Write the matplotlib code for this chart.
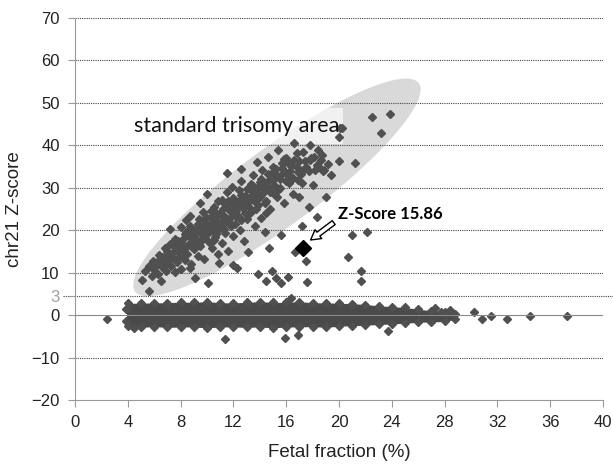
import matplotlib
matplotlib.use("Agg")
import matplotlib.pyplot as plt
from matplotlib.patches import Ellipse, Rectangle
from matplotlib.transforms import Affine2D

# trisomy 21 cases (fetal fraction %, chr21 z-score)
tri_x = [5.1, 5.6, 5.3, 5.6, 5.8, 5.9, 6.0,
         6.2, 6.3, 6.4, 6.5, 6.6, 6.7, 6.8, 6.9, 7.0,
         7.1, 7.2, 7.3, 7.4, 7.5, 7.6, 7.7, 7.8, 7.9, 8.0, 7.6, 7.2,
         8.1, 8.2, 8.3, 8.4, 8.5, 8.6, 8.7, 8.8, 8.9, 9.0, 8.4, 8.7, 8.0, 8.7,
         9.1, 9.1, 9.2, 9.3, 9.4, 9.5, 9.6, 9.7, 9.8, 9.9, 10.0, 9.5,
         10.1, 10.0, 10.2, 10.3, 10.4, 10.5, 10.6, 10.7, 10.8, 10.9, 11.0, 10.5, 10.8,
         11.1, 11.1, 11.2, 11.3, 11.4, 11.5, 11.6, 11.7, 11.8, 11.9, 12.0, 11.5,
         12.0, 12.3, 12.1, 12.2, 12.4, 12.5, 12.6, 12.7, 12.8, 12.9, 13.0, 12.6,
         13.1, 13.2, 13.3, 13.4, 13.5, 13.6, 13.7, 13.8, 13.9, 13.9, 14.0,
         14.1, 14.2, 14.3, 14.5, 14.5, 14.6, 14.7, 14.7, 14.8, 14.9, 15.0, 14.4,
         15.2, 15.1, 15.3, 15.4, 15.5, 15.6, 15.6, 15.7, 15.8, 15.9, 15.9, 16.0,
         16.1, 16.0, 16.2, 16.4, 16.4, 16.5, 16.7, 16.8, 16.9, 17.0, 16.6,
         17.2, 17.3, 17.5, 17.6, 17.7, 17.5, 17.8, 17.9, 17.3, 17.2, 17.0, 17.8,
         18.3, 18.4, 18.3, 18.6, 18.8, 19.0, 19.2, 18.2, 18.9, 19.4, 18.0,
         20.0, 20.2, 20.0, 21.2, 21.0, 22.1, 20.7, 21.7, 21.7, 22.5, 23.9, 23.2, 20.1,
         6.6, 6.9, 7.0, 7.3, 7.4, 7.7, 7.9, 8.0, 8.2, 8.3, 8.5, 8.6, 8.8, 8.9, 9.0,
         9.2, 9.3, 9.4, 9.6, 9.7, 9.8, 9.9, 10.1, 10.2, 10.3, 10.4, 10.6, 10.7, 10.9,
         11.0, 11.2, 11.3, 11.4, 11.6, 11.7, 11.9, 12.0, 12.1, 12.3, 12.4, 12.6, 12.7,
         12.9, 13.0, 13.2, 13.3, 13.5, 13.6, 13.8, 14.0, 14.1, 14.3, 14.4, 14.6, 14.8,
         15.0, 15.2, 15.4, 15.6, 15.8, 16.0, 16.3, 16.6, 16.9,
         6.1, 6.4, 6.8, 7.1, 7.5, 7.8, 8.1, 8.4, 8.6, 8.9, 9.1, 9.4, 9.6, 9.9, 10.0,
         10.3, 10.5, 10.6, 10.9, 11.1, 11.3, 11.5, 11.8, 11.9, 12.2, 12.4, 12.6, 12.8,
         13.0, 13.1, 13.3, 13.5, 13.7, 13.9, 14.2, 14.4, 14.5, 14.7, 14.9, 15.1, 15.3,
         15.5, 15.7, 16.1, 16.2, 16.5, 16.8, 17.1, 17.4, 17.7, 18.1, 18.5, 18.7]
tri_y = [8.3, 5.7, 10.5, 11.5, 9.2, 12.8, 10.6,
         12.5, 9.8, 14.1, 8.0, 11.3, 13.0, 15.9, 10.4, 12.2,
         14.4, 16.8, 11.6, 13.5, 15.2, 18.0, 12.4, 14.8, 16.5, 10.8, 10.2, 20.3,
         15.5, 17.9, 13.0, 19.6, 14.3, 16.7, 21.0, 12.1, 18.4, 15.6, 22.3, 11.0, 20.8, 23.3,
         8.7, 17.3, 20.2, 14.0, 22.6, 16.4, 19.0, 24.3, 13.2, 21.4, 17.8, 26.5,
         7.6, 28.5, 19.8, 23.1, 15.9, 25.4, 18.3, 21.9, 14.4, 12.2, 24.0, 20.6, 27.0,
         17.0, 27.1, 22.5, 26.3, 19.4, 28.9, 15.2, 24.8, 21.1, 30.2, 18.6, 33.5,
         11.8, 11.1, 26.0, 23.4, 29.5, 20.0, 31.6, 25.2, 17.4, 28.1, 22.7, 34.5,
         14.9, 27.0, 30.8, 24.5, 33.1, 20.9, 28.8, 36.0, 9.6, 25.9, 31.4,
         22.8, 34.2, 29.4, 8.1, 27.0, 37.2, 15.8, 31.9, 25.1, 10.3, 35.0, 19.5,
         8.7, 28.6, 32.7, 38.9, 30.0, 18.9, 7.6, 35.8, 26.4, 33.6, 36.1, 33.4,
         8.9, 37.0, 31.2, 4.0, 35.2, 28.5, 14.9, 38.3, 33.8, 36.4, 40.6,
         21.0, 38.5, 12.7, 7.8, 25.5, 35.0, 40.0, 37.0, 34.2, 31.1, 27.8, 36.5,
         23.1, 38.9, 35.4, 36.5, 34.0, 27.8, 35.6, 34.2, 34.2, 33.0, 30.6,
         42.0, 44.0, 36.3, 35.8, 18.9, 19.6, 13.7, 10.4, 8.0, 46.7, 47.4, 43.0, 44.1,
         13.8, 12.9, 15.0, 14.0, 17.2, 15.9, 13.7, 17.0, 15.0, 19.0, 16.2, 18.6, 20.2, 16.0, 19.3,
         18.0, 21.5, 16.9, 20.5, 18.2, 22.5, 19.5, 21.0, 17.0, 24.5, 20.0, 22.8, 19.0, 23.9,
         21.0, 25.0, 20.4, 23.2, 26.8, 22.0, 24.6, 27.5, 21.4, 25.8, 23.0, 28.4, 26.5,
         24.0, 29.7, 25.5, 28.0, 30.5, 26.8, 29.6, 27.9, 32.0, 30.5, 26.5, 33.2, 29.0,
         31.8, 34.4, 29.4, 33.0, 36.8, 31.5, 34.0, 36.6, 31.8,
         11.8, 12.0, 13.9, 13.2, 16.4, 17.4, 14.2, 16.0, 20.0, 17.0, 19.8, 19.6, 17.6, 23.0, 19.0,
         21.8, 17.6, 24.2, 20.4, 23.6, 21.8, 25.6, 23.0, 26.6, 24.6, 27.0, 22.4, 26.0,
         27.6, 23.5, 29.4, 27.2, 25.0, 30.2, 28.6, 31.2, 24.0, 29.8, 33.4, 30.6, 27.8,
         32.0, 34.6, 33.0, 35.8, 32.4, 35.0, 33.2, 36.4, 34.0, 37.2, 34.8, 37.8]

# scattered normal cases outside the dense band
out_x = [2.4, 4.5, 11.4, 15.9, 16.9, 23.7, 27.3, 28.4, 27.7, 30.2, 30.8, 31.5, 32.7, 34.5, 37.3]
out_y = [-0.9, -3.1, -5.7, -5.4, -4.7, -3.8, 1.7, 1.2, 0.8, 0.8, -0.9, -0.3, -0.9, -0.2, -0.2]

# outline of the dense band of normal cases
band_x = [3.9, 4.0, 5, 6, 7, 8, 9, 10, 11, 12, 13, 14, 15, 16, 17, 18, 19, 20,
          21, 22, 23, 24, 25, 26, 27, 28, 28.8]
band_top = [1.5, 2.8, 2.8, 2.9, 2.9, 3.1, 3.0, 3.2, 2.9, 2.9, 3.0, 3.2, 3.0, 3.0, 3.2, 2.9, 2.9, 2.8,
            2.7, 2.5, 2.2, 2.0, 1.8, 1.4, 1.0, 0.8, 0.2]
band_bot = [-1.5, -2.6, -2.9, -2.7, -2.9, -2.8, -2.8, -3.0, -2.8, -2.8, -2.9, -2.8, -3.0, -2.8, -2.8, -2.7,
            -2.9, -2.6, -2.5, -2.4, -2.2, -2.1, -1.9, -1.7, -1.6, -1.5, -1.0]

case_x, case_y = 17.3, 15.86

# the "3" cut-off line sits a little above 3 on the drawn scale
cut_pos, cut_label = 4.5, '3'
ytick_pos = [-20, -10, 0, cut_pos, 10, 20, 30, 40, 50, 60, 70]
ytick_lab = ['\u221220', '\u221210', '0', cut_label, '10', '20', '30', '40', '50', '60', '70']
xticks = list(range(0, 41, 4))

plt.rcParams['font.family'] = ['Liberation Sans', 'DejaVu Sans']
fig = plt.figure(figsize=(6.13, 4.71), dpi=100)
ax = fig.add_axes([75 / 613, 1 - 400 / 471, 528 / 613, 382 / 471])
ax.set_xlim(0, 40)
ax.set_ylim(-20, 70)

# pixels per data unit, used to draw the ellipse undistorted
sx = 528 / 40
sy = 382 / 90
ell = Ellipse((15.3 * sx, 30.1 * sy), width=352, height=78, angle=36.3,
              transform=Affine2D().scale(1 / sx, 1 / sy) + ax.transData,
              facecolor='#d9d9d9', edgecolor='none', zorder=1)
ax.add_patch(ell)

for v in [-10, 10, 20, 30, 40, 50, 60, 70]:
    ax.axhline(v, color='#444444', lw=0.8, ls=(0, (1, 1)), zorder=1.5)
ax.plot([-0.023, 1.02], [cut_pos, cut_pos], transform=ax.get_yaxis_transform(), clip_on=False,
        color='#444444', lw=0.8, ls=(0, (1, 1)), zorder=1.5)

ax.add_patch(Rectangle((3.1, 40.3), 17.2, 8.5, facecolor='white', alpha=0.65,
                       edgecolor='none', zorder=2))
ax.text(4.5, 44.6, 'standard trisomy area', fontsize=15.5, va='center', ha='left',
        family=['Lato', 'DejaVu Sans'], color='#111111', zorder=4)

mk = dict(ls='none', marker='D', ms=4.5, color='#505050', mec='#505050', zorder=3)
ax.fill_between(band_x, band_bot, band_top, color='#4a4a4a', lw=0, zorder=3)
ax.plot(band_x, band_top, **mk)
ax.plot(band_x, band_bot, **mk)
ax.axhline(0, color='#8a8a8a', lw=0.8, zorder=3.5)
ax.plot(out_x, out_y, **mk)
ax.plot(tri_x, tri_y, **mk)
ax.plot([case_x], [case_y], ls='none', marker='D', ms=8, color='black', zorder=5)

ax.annotate('', xy=(17.85, 17.7), xytext=(19.6, 21.8),
            arrowprops=dict(arrowstyle='simple,head_length=0.7,head_width=0.8,tail_width=0.35',
                            fc='white', ec='black', lw=1, shrinkA=0, shrinkB=0), zorder=5)
ax.text(19.9, 23.8, 'Z-Score 15.86', fontsize=12, fontweight='bold', va='center',
        family=['Lato', 'DejaVu Sans'], zorder=5)

for s in ['top', 'right']:
    ax.spines[s].set_visible(False)
for s in ['left', 'bottom']:
    ax.spines[s].set_color('#999999')
ax.set_yticks(ytick_pos, ytick_lab)
ax.set_xticks(xticks)
ax.tick_params(length=5, width=0.8, color='#999999', labelsize=12, labelcolor='#222222', pad=6)
for lab in ax.get_yticklabels():
    if lab.get_text() == cut_label:
        lab.set_color('#a0a0a0')
ax.set_ylabel('chr21 Z-score', fontsize=13.5, color='#222222', labelpad=6)
ax.set_xlabel('Fetal fraction (%)', fontsize=13.5, color='#222222', labelpad=10)

fig.savefig('out.png', dpi=100)
